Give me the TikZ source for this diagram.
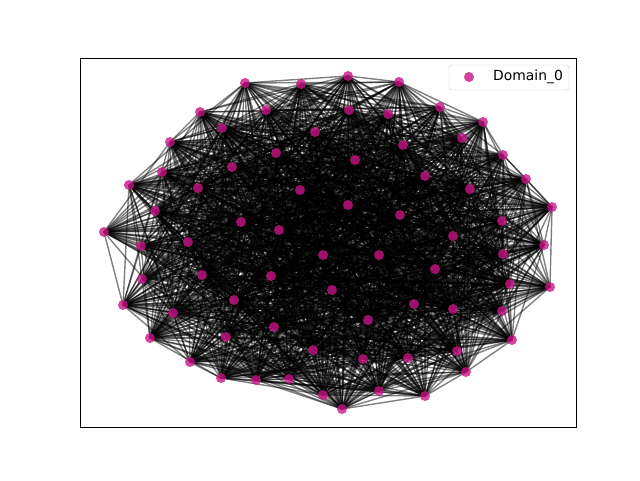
\documentclass[tikz,border=0pt]{standalone}
\usepackage{fontspec}
\setmainfont{DejaVu Sans}
\definecolor{mvr}{RGB}{199,21,133}
\pgfdeclarelayer{bg}
\pgfsetlayers{bg,main}
\begin{document}
\begin{tikzpicture}[x=1pt,y=-1pt,
  vtx/.style={circle,fill=mvr,fill opacity=0.8,draw=none,inner sep=0pt,minimum size=10pt},
  link/.style={black,opacity=0.5,line width=1.4pt}]
\useasboundingbox (0,0) rectangle (640,480);
\foreach \x/\y [count=\k] in {245/83,301/84,348/76,399/82,440/107,483/122,503/155,526/179,552/207,544/245,550/287,512/340,466/372,425/396,379/391,342/409,323/395,289/379,256/380,221/378,190/362,150/338,123/305,104/232,129/185,170/142,200/112,222/128,266/110,349/110,388/114,462/138,315/132,403/145,162/172,232/167,276/153,355/160,425/176,470/189,198/188,155/211,241/222,300/190,348/205,400/215,502/221,453/236,188/242,141/246,279/230,142/279,202/275,173/313,234/300,226/337,323/255,379/255,271/276,332/290,368/320,274/327,313/350,363/359,408/358,503/254,435/269,510/284,414/304,453/309,502/311,457/351}{
  \node[vtx] (n\k) at (\x,\y) {};
  \pgfmathsetmacro\r{sqrt(((\x-340)/225)^2+((\y-240)/170)^2)}
  \pgfmathsetmacro\w{min(1,1.1-0.4*\r)}
  \expandafter\xdef\csname wt\k\endcsname{\w}
}
\begin{pgfonlayer}{bg}
\pgfmathsetseed{7}
\foreach \i in {1,...,71}{
  \pgfmathtruncatemacro\js{\i+1}
  \foreach \j in {\js,...,72}{
    \edef\wa{\csname wt\i\endcsname}
    \edef\wb{\csname wt\j\endcsname}
    \pgfmathsetmacro\pp{\wa*\wb}
    \pgfmathsetmacro\u{rnd}
    \ifdim\u pt<\pp pt \draw[link] (n\i.center) -- (n\j.center); \fi
  }
}
\end{pgfonlayer}
\draw[line width=0.8pt] (80,58) rectangle (576,427);
\draw[rounded corners=3pt, draw=black!20, fill=white, fill opacity=0.8] (449,65) rectangle (569,90);
\node[vtx] (lm) at (469,77) {};
\node[anchor=west,inner sep=0pt] (lt) at (493,77) {\fontsize{13.9}{16}\selectfont Domain\_0};
\end{tikzpicture}
\end{document}
